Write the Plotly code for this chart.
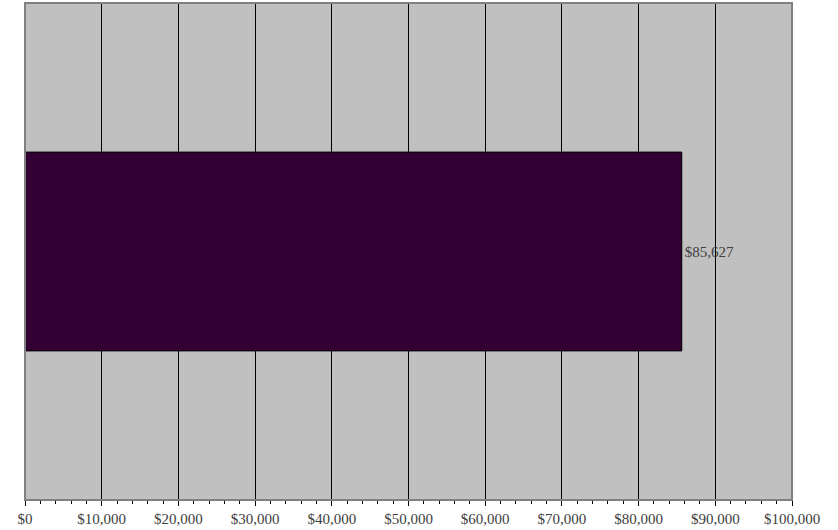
import plotly.graph_objects as go

categories = [""]
values = [85627]
tick_values = [0, 10000, 20000, 30000, 40000, 50000, 60000, 70000, 80000, 90000, 100000]
tick_labels = ["$0", "$10,000", "$20,000", "$30,000", "$40,000", "$50,000",
               "$60,000", "$70,000", "$80,000", "$90,000", "$100,000"]
bar_labels = ["$85,627"]

fig = go.Figure()
fig.add_trace(go.Bar(
    x=values, y=categories, orientation="h",
    marker=dict(color="#330033", line=dict(color="#000000", width=1)),
    text=bar_labels, textposition="outside", cliponaxis=False,
    textfont=dict(family="Liberation Serif", size=15, color="#404040"),
    hoverinfo="skip",
))

fig.add_shape(type="rect", xref="paper", yref="paper", x0=0, x1=1, y0=0, y1=1,
              line=dict(color="#808080", width=2), layer="above")

fig.update_layout(
    width=838, height=530,
    margin=dict(l=25, r=46, t=3, b=28),
    paper_bgcolor="white", plot_bgcolor="#C0C0C0",
    bargap=0.6, showlegend=False,
    font=dict(family="Liberation Serif", size=15, color="#404040"),
    xaxis=dict(
        range=[0, 100000], tickvals=tick_values, ticktext=tick_labels,
        showgrid=True, gridcolor="#000000", gridwidth=1,
        zeroline=False, showline=True, linecolor="#000000", linewidth=1,
        ticks="outside", ticklen=5, tickcolor="#000000",
        minor=dict(dtick=2000, ticks="outside", ticklen=3, tickcolor="#000000", showgrid=False),
        tickfont=dict(family="Liberation Serif", size=15, color="#404040"),
        fixedrange=True,
    ),
    yaxis=dict(range=[-0.5, 0.5], showticklabels=False, showgrid=False,
               zeroline=False, ticks="", fixedrange=True),
)

fig.write_html("out.html", config={"displayModeBar": False},
               post_script="document.body.style.margin='0';")
